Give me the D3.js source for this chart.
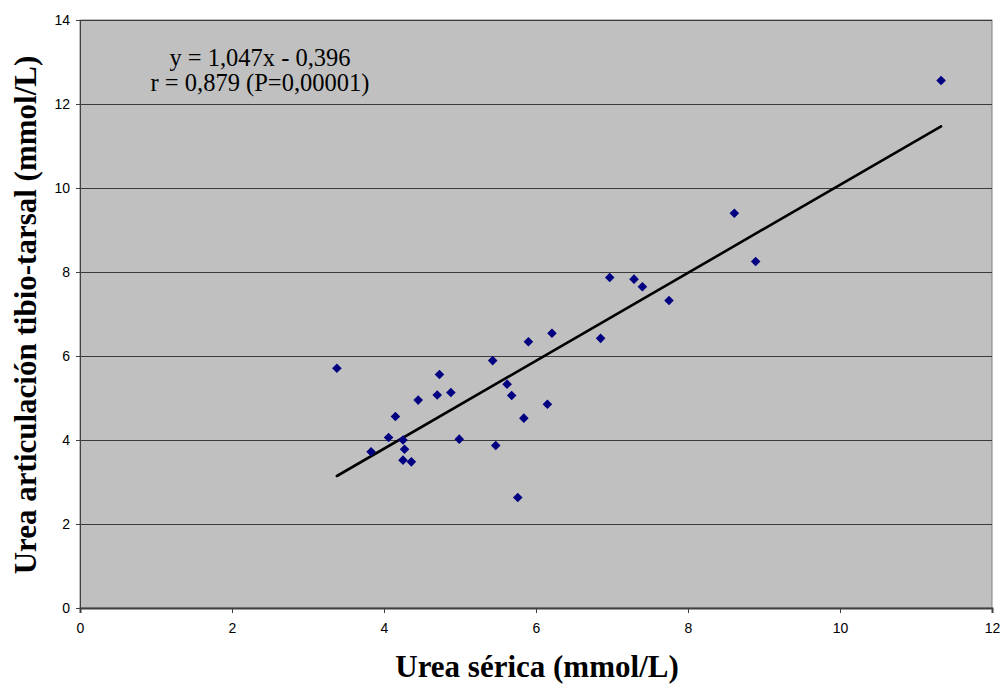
<!DOCTYPE html>
<meta charset="utf-8">
<style>
body { margin: 0; background: #fff; }
.tick text { font-family: "Liberation Sans", Arial, sans-serif; font-size: 14px; fill: #000; }
.title { font-family: "Liberation Serif", "Times New Roman", serif; font-weight: bold; font-size: 31px; fill: #000; }
.eq { font-family: "Liberation Serif", "Times New Roman", serif; font-size: 24.5px; fill: #000; }
</style>
<svg width="1003" height="685"></svg>
<script src="https://cdn.jsdelivr.net/npm/d3@7"></script>
<script>
// urea sérica (x) vs urea articulación tibio-tarsal (y), mmol/L
var sericaX = [3.38, 3.83, 4.06, 4.15, 4.25, 4.27, 4.25, 4.36, 4.45, 4.70,
               4.73, 4.88, 4.99, 5.43, 5.47, 5.62, 5.68, 5.76, 5.84, 5.90,
               6.15, 6.21, 6.85, 6.97, 7.29, 7.40, 7.75, 8.61, 8.89, 11.33];
var articY  = [5.71, 3.72, 4.06, 4.56, 4.00, 3.78, 3.52, 3.48, 4.95, 5.07,
               5.56, 5.13, 4.02, 5.89, 3.87, 5.33, 5.06, 2.63, 4.52, 6.34,
               4.85, 6.54, 6.42, 7.87, 7.83, 7.65, 7.32, 9.40, 8.25, 12.56];

var slope = 1.047, intercept = -0.396;
var eqLines = ["y = 1,047x - 0,396", "r = 0,879 (P=0,00001)"];

var xTicks = [0, 2, 4, 6, 8, 10, 12];
var yTicks = [0, 2, 4, 6, 8, 10, 12, 14];

var svg = d3.select("svg"),
    margin = {top: 20, right: 11, bottom: 77, left: 80},
    width = +svg.attr("width") - margin.left - margin.right,
    height = +svg.attr("height") - margin.top - margin.bottom,
    g = svg.append("g").attr("transform", "translate(" + margin.left + "," + margin.top + ")");

var x = d3.scaleLinear().domain([0, 12]).range([0, width]);
var y = d3.scaleLinear().domain([0, 14]).range([height, 0]);

// plot area
g.append("rect")
    .attr("width", width)
    .attr("height", height)
    .attr("fill", "#c0c0c0")
    .attr("stroke", "#808080")
    .attr("stroke-width", 1);

// gridlines
g.append("g")
  .selectAll("line")
  .data(yTicks.filter(function(d) { return d > 0; }))
  .enter().append("line")
    .attr("x1", 0)
    .attr("x2", width)
    .attr("y1", function(d) { return Math.round(y(d)) + 0.5; })
    .attr("y2", function(d) { return Math.round(y(d)) + 0.5; })
    .attr("stroke", "#3a3a3a")
    .attr("stroke-width", 1);

var xAxis = g.append("g")
    .attr("transform", "translate(0," + height + ")")
    .call(d3.axisBottom(x).tickValues(xTicks).tickSize(5).tickPadding(10));
xAxis.select(".domain").attr("stroke", "#404040").attr("stroke-width", 2);
xAxis.selectAll(".tick line").attr("stroke", "#404040");

var yAxis = g.append("g")
    .call(d3.axisLeft(y).tickValues(yTicks).tickSize(4).tickPadding(6));
yAxis.select(".domain").attr("stroke", "#404040");
yAxis.selectAll(".tick line").attr("stroke", "#404040");

// trend line over the data range
var xr = d3.extent(sericaX);
g.append("line")
    .attr("x1", x(xr[0]))
    .attr("y1", y(slope * xr[0] + intercept))
    .attr("x2", x(xr[1]))
    .attr("y2", y(slope * xr[1] + intercept))
    .attr("stroke", "#000")
    .attr("stroke-width", 2.6)
    .attr("stroke-linecap", "round");

// points
var diamond = d3.symbol().type(d3.symbolSquare).size(46);
g.append("g")
  .selectAll("path")
  .data(d3.range(sericaX.length))
  .enter().append("path")
    .attr("d", diamond)
    .attr("transform", function(i) {
      return "translate(" + x(sericaX[i]) + "," + y(articY[i]) + ") rotate(45)";
    })
    .attr("fill", "#000080");

// equation
g.append("g")
  .selectAll("text")
  .data(eqLines)
  .enter().append("text")
    .attr("class", "eq")
    .attr("text-anchor", "middle")
    .attr("x", 180)
    .attr("y", function(d, i) { return 46 + i * 25; })
    .text(function(d) { return d; });

// axis titles
svg.append("text")
    .attr("class", "title")
    .attr("text-anchor", "middle")
    .attr("x", margin.left + width / 2 + 1)
    .attr("y", 677)
    .text("Urea sérica (mmol/L)");

svg.append("text")
    .attr("class", "title")
    .attr("text-anchor", "middle")
    .attr("transform", "translate(36," + (margin.top + height / 2 + 1) + ") rotate(-90)")
    .text("Urea articulación tibio-tarsal (mmol/L)");
</script>
